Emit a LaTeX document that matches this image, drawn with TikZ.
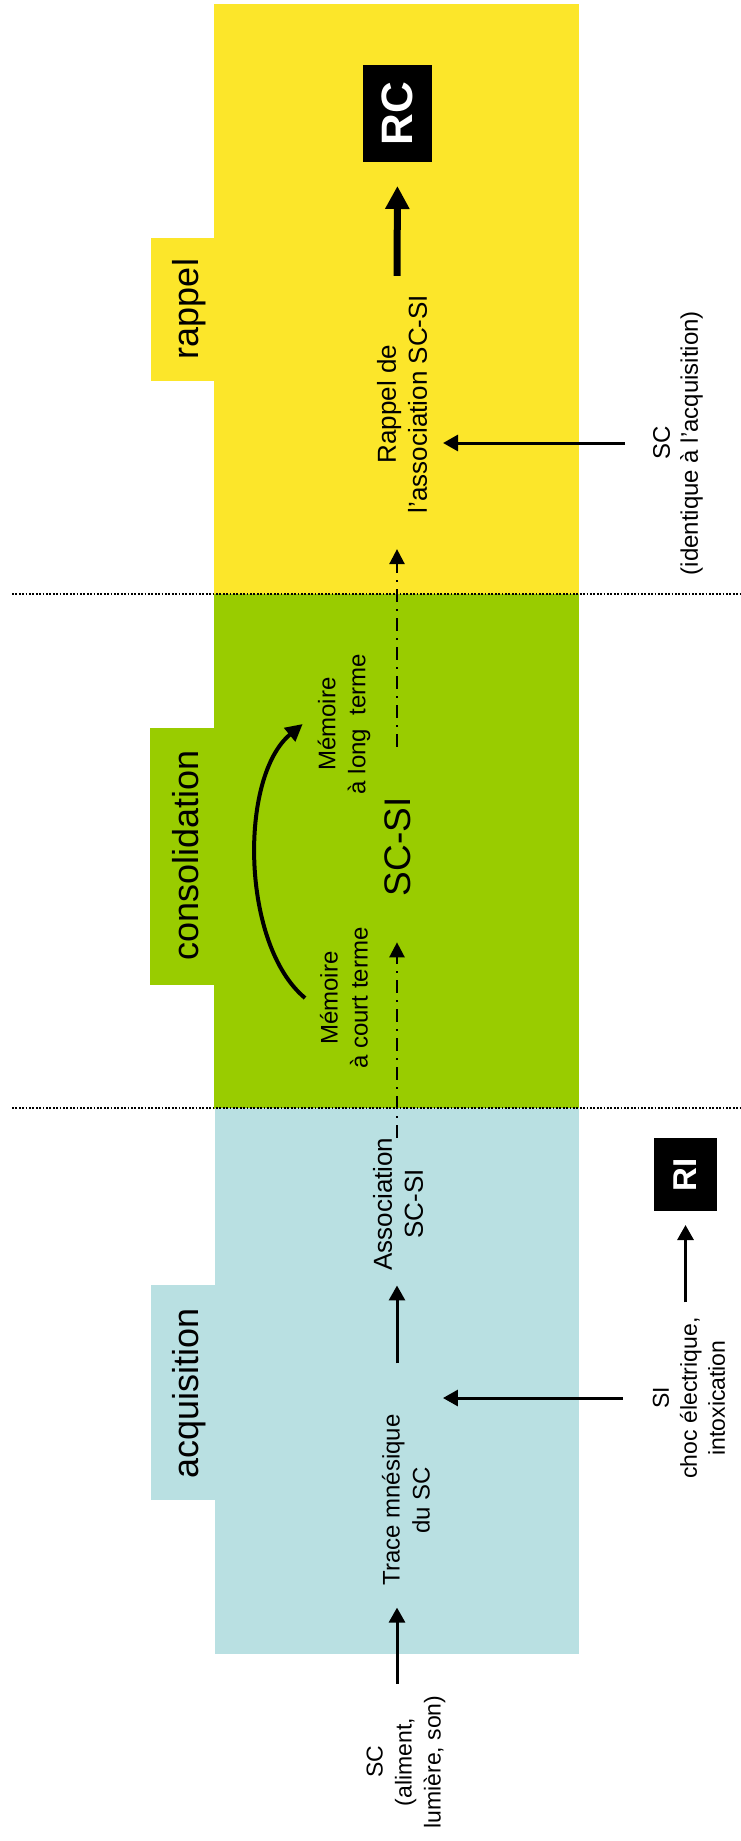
\documentclass[tikz,border=0pt]{standalone}
\usepackage{fontspec}
\setmainfont{Liberation Sans}
\usetikzlibrary{arrows.meta}
\definecolor{phaseyellow}{HTML}{FCE62A}
\definecolor{phasegreen}{HTML}{99CC00}
\definecolor{phaseblue}{HTML}{B9E0E2}
\begin{document}
\begin{tikzpicture}[x=1pt,y=-1pt,
  every node/.style={inner sep=0pt, outer sep=0pt},
  vtext/.style={rotate=90, align=center},
  tablabel/.style={rotate=90, anchor=base, font=\fontsize{36}{43}\selectfont},
  respbox/.style={rotate=90, fill=black, text=white},
  separator/.style={line width=1.7pt, dash pattern=on 1.7pt off 1.7pt},
  arr/.style={line width=3pt, -{Triangle[length=15pt,width=16pt]}},
  thickarr/.style={line width=7pt, -{Triangle[length=23pt,width=23pt]}},
  dasharr/.style={line width=2.5pt, dash pattern=on 13pt off 7pt on 2pt off 7pt,
    -{Triangle[length=15pt,width=15pt]}},
  curvearr/.style={line width=4pt, -{Triangle[length=17pt,width=17pt]}}
]
\useasboundingbox (0,0) rectangle (741,1841);

% phase backgrounds with their side tabs
\fill[phaseyellow] (214,4) rectangle (579,594.5);
\fill[phaseyellow] (151,238) rectangle (214.5,381);
\fill[phasegreen] (214,594) rectangle (579,1108.5);
\fill[phasegreen] (150,728) rectangle (214.5,985);
\fill[phaseblue] (215,1108) rectangle (579,1654);
\fill[phaseblue] (151,1285) rectangle (215.5,1500);

% dotted separators between the phases
\draw[separator] (12,594) -- (741,594);
\draw[separator] (12,1108) -- (741,1108);

% phase names
\node[tablabel] (tabr) at (198,309) {rappel};
\node[tablabel] (tabc) at (198,855) {consolidation};
\node[tablabel] (taba) at (198,1393) {acquisition};

% responses
\node[respbox, minimum width=97pt, minimum height=69pt,
      font=\bfseries\fontsize{44}{50}\selectfont] (rc) at (397.5,113.5) {RC};
\node[respbox, minimum width=73pt, minimum height=63pt,
      font=\bfseries\fontsize{33}{38}\selectfont] (ri) at (685.5,1174.5) {RI};

% central column
\node[vtext, font=\fontsize{26}{31}\selectfont] (rappeltxt) at (402,404)
  {Rappel de\\l’association SC-SI};
\node[vtext, font=\fontsize{24}{30}\selectfont] (long) at (344,724)
  {Mémoire\\à long~ terme};
\node[vtext, font=\fontsize{37}{44}\selectfont] (scsi) at (398,847) {SC-SI};
\node[vtext, font=\fontsize{24}{30}\selectfont] (court) at (344,998)
  {Mémoire\\à court terme};
\node[vtext, font=\fontsize{26}{31}\selectfont] (assoc) at (398,1204)
  {Association\\SC-SI};
\node[vtext, font=\fontsize{24}{30}\selectfont] (trace) at (406,1500)
  {Trace mnésique\\du SC};
\node[vtext, font=\fontsize{23}{29}\selectfont] (scleft) at (406,1762)
  {SC\\(aliment,\\lumière, son)};

% stimuli on the right
\node[vtext, font=\fontsize{24}{28}\selectfont] (scright) at (678,443)
  {SC\\(identique à l’acquisition)};
\node[vtext, font=\fontsize{23}{28}\selectfont] (siright) at (689,1398)
  {SI\\choc électrique,\\intoxication};

\coordinate (axis) at (397,0);

% connectors
\draw[arr, shorten <=12pt, shorten >=22pt] (scleft.east -| axis) -- (trace.west -| axis);
\draw[arr, shorten <=51pt, shorten >=15pt] (trace.east -| axis) -- (assoc.west -| axis);
\draw[dasharr, shorten >=46pt] (assoc.east -| axis) -- (scsi.west -| axis);
\draw[dasharr, shorten <=51pt, shorten >=36pt] (scsi.east -| axis) -- (rappeltxt.west -| axis);
\draw[thickarr, shorten <=19pt, shorten >=24pt] (rappeltxt.east -| axis) -- (rc.west);
\draw[arr, shorten <=28pt, shorten >=16pt] (scright.north) -- (scright.north -| rappeltxt.south);
\draw[arr, shorten <=30pt, shorten >=13pt] (siright.north) -- (siright.north -| trace.south);
\draw[arr, shorten <=15pt, shorten >=14pt] (siright.east -| ri.west) -- (ri.west);
\draw[curvearr] ([xshift=-15pt]court.north) .. controls +(-64,-53) and +(-64,53) .. ([xshift=-15pt]long.north);
\end{tikzpicture}
\end{document}
